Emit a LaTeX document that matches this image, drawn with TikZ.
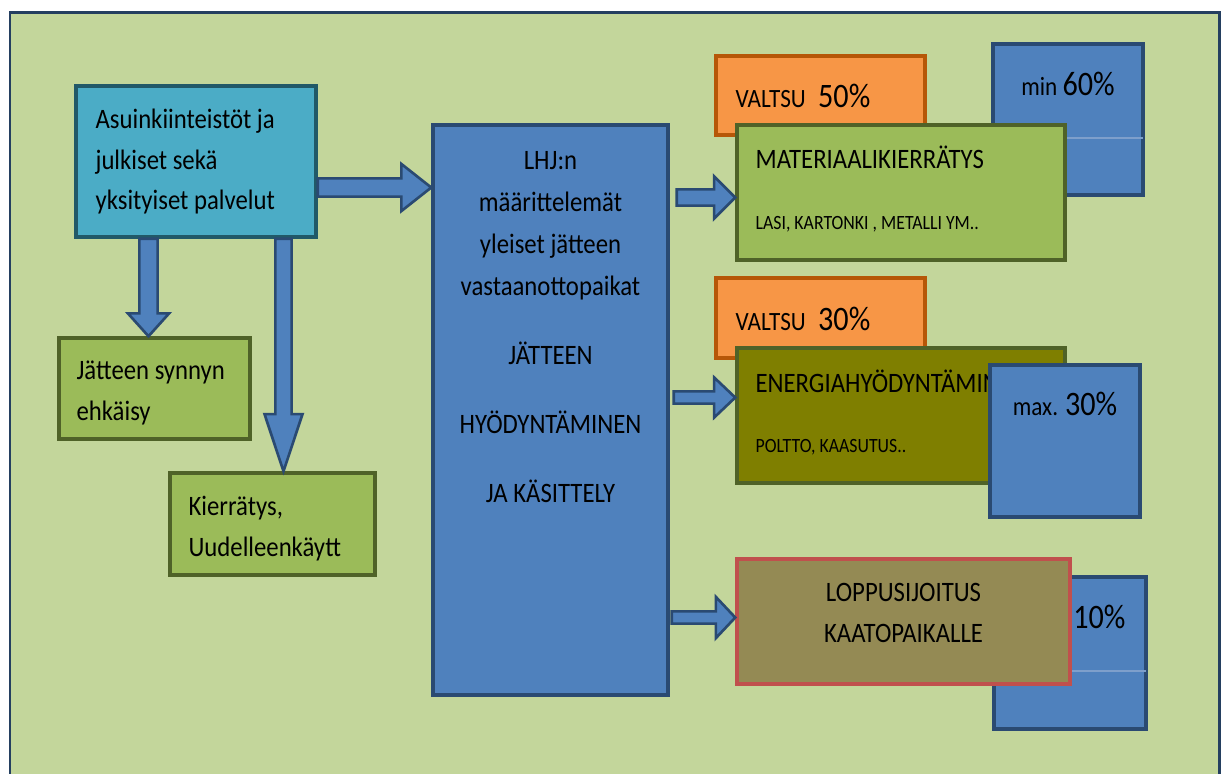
\documentclass[tikz,border=0pt]{standalone}
\usepackage{fontspec}
\setmainfont{Carlito}[FakeStretch=0.88]
\usetikzlibrary{positioning,calc}

\definecolor{bggreen}{HTML}{C3D69B}
\definecolor{frameline}{HTML}{243F60}
\definecolor{cyanfill}{HTML}{4BACC6}
\definecolor{cyanline}{HTML}{215968}
\definecolor{greenfill}{HTML}{9BBB59}
\definecolor{greenline}{HTML}{4F6228}
\definecolor{bluefill}{HTML}{4F81BD}
\definecolor{blueline}{HTML}{2A4A72}
\definecolor{orangefill}{HTML}{F79646}
\definecolor{orangeline}{HTML}{B65708}
\definecolor{olivefill}{HTML}{7F7F00}
\definecolor{brownfill}{HTML}{948A54}
\definecolor{redline}{HTML}{C0504D}
\definecolor{rowline}{HTML}{7E9FCB}

\newcommand{\boxtxt}{\fontsize{16}{23.3}\selectfont}
\newcommand{\ctrtxt}{\fontsize{16}{23.8}\selectfont}
\newcommand{\smalltxt}{\fontsize{11.5}{14}\selectfont}
\newcommand{\lbltxt}{\fontsize{15}{20}\selectfont}
\newcommand{\pcttxt}{\fontsize{19.5}{24}\selectfont}

\tikzset{font=\boxtxt}
\tikzset{
  cyanbox/.style={draw=cyanline, fill=cyanfill, line width=2pt, inner sep=0pt},
  greenbox/.style={draw=greenline, fill=greenfill, line width=2pt, inner sep=0pt},
  bluebox/.style={draw=blueline, fill=bluefill, line width=2pt, inner sep=0pt},
  orangebox/.style={draw=orangeline, fill=orangefill, line width=2pt, inner sep=0pt},
  olivebox/.style={draw=greenline, fill=olivefill, line width=2pt, inner sep=0pt},
  brownbox/.style={draw=redline, fill=brownfill, line width=2pt, inner sep=0pt},
  txt/.style={inner sep=0pt, align=left, text=black},
  rowsep/.style={draw=rowline, line width=0.6pt, shorten >=1pt, shorten <=1pt},
  blockarrow/.style n args={3}{draw=blueline, fill=bluefill, line width=1.5pt, line join=miter,
    to path={let \p1=($(\tikztotarget)-(\tikztostart)$),
      \n1={atan2(\y1,\x1)}, \n2={veclen(\x1,\y1)-#3} in
      ++(\n1+90:{#1}) -- ++(\n1:{\n2*1pt}) -- ++(\n1+90:{#2-#1}) -- (\tikztotarget)
      -- ($(\tikztostart)+(\n1:{\n2*1pt})+(\n1-90:{#2})$) -- ++(\n1+90:{#2-#1})
      -- ++(\n1+180:{\n2*1pt}) -- cycle}}
}

\begin{document}
\begin{tikzpicture}
	\useasboundingbox (0,0) rectangle (24.6,-15.46);
	\clip (0,0) rectangle (24.6,-15.46);
	\fill[white] (0,0) rectangle (24.6,-15.46);
	\draw[frameline, line width=1.7pt, fill=bggreen] (0.2,-0.24) rectangle (24.38,-15.9);

	\node[cyanbox, minimum width=4.8cm, minimum height=3.02cm] (src) at (3.92,-3.23) {};
	\node[txt, anchor=west] (srct) at ([xshift=0.42cm]src.west) {Asuinkiinteistöt ja\\julkiset sekä\\yksityiset palvelut};

	\node[greenbox, minimum width=3.82cm, minimum height=2.02cm] (jse) at (3.09,-7.77) {};
	\node[txt, anchor=west] (jset) at ([xshift=0.38cm,yshift=-0.09cm]jse.west) {Jätteen synnyn\\ehkäisy};

	\node[greenbox, minimum width=4.1cm, minimum height=2.04cm] (kie) at (5.45,-10.48) {};
	\node[txt, anchor=west] (kiet) at ([xshift=0.4cm,yshift=-0.1cm]kie.west) {Kierrätys,\\Uudelleenkäytt};

	\node[bluebox, minimum width=4.7cm, minimum height=11.4cm] (lhj) at (11.01,-8.2) {};
	\node[txt, align=center, anchor=north, font=\ctrtxt] (lhjt) at ([yshift=-0.56cm]lhj.north)
		{LHJ:n\\määrittelemät\\yleiset jätteen\\vastaanottopaikat\\[15.5pt]JÄTTEEN\\[15.5pt]HYÖDYNTÄMINEN\\[15.5pt]JA KÄSITTELY};

	\node[orangebox, minimum width=4.18cm, minimum height=1.58cm] (v50) at (16.41,-1.91) {};
	\node[txt, anchor=base west, font=\lbltxt] (v50t) at ([xshift=0.42cm,yshift=-0.23cm]v50.west) {VALTSU\hspace{7pt}{\pcttxt 50\%}};
	\node[bluebox, minimum width=3cm, minimum height=3.02cm] (m60) at (21.36,-2.39) {};
	\draw[rowsep] ([yshift=-0.37cm]m60.west) -- ([yshift=-0.37cm]m60.east);
	\node[txt, anchor=base, font=\lbltxt] (m60t) at ([yshift=0.49cm]m60.center) {min {\pcttxt 60\%}};
	\node[greenbox, minimum width=6.56cm, minimum height=2.7cm] (mat) at (18.02,-3.85) {};
	\node[txt, anchor=base west] (matt) at ([xshift=0.4cm,yshift=0.49cm]mat.west) {MATERIAALIKIERRÄTYS};
	\node[txt, anchor=base west, font=\smalltxt] (mats) at ([xshift=0.4cm,yshift=-0.73cm]mat.west) {LASI, KARTONKI , METALLI YM..};

	\node[orangebox, minimum width=4.18cm, minimum height=1.6cm] (v30) at (16.41,-6.36) {};
	\node[txt, anchor=base west, font=\lbltxt] (v30t) at ([xshift=0.42cm,yshift=-0.24cm]v30.west) {VALTSU\hspace{7pt}{\pcttxt 30\%}};
	\node[olivebox, minimum width=6.56cm, minimum height=2.7cm] (ene) at (18.02,-8.31) {};
	\node[txt, anchor=base west] (enet) at ([xshift=0.4cm,yshift=0.47cm]ene.west) {ENERGIAHYÖDYNTÄMINEN};
	\node[txt, anchor=base west, font=\smalltxt] (enes) at ([xshift=0.4cm,yshift=-0.73cm]ene.west) {POLTTO, KAASUTUS..};
	\node[bluebox, minimum width=3cm, minimum height=3.04cm] (x30) at (21.3,-8.82) {};
	\node[txt, anchor=base, font=\lbltxt] (x30t) at ([yshift=0.52cm]x30.center) {max. {\pcttxt 30\%}};

	\node[bluebox, minimum width=3.04cm, minimum height=3.04cm] (p10) at (21.4,-13.06) {};
	\draw[rowsep] ([yshift=-0.36cm]p10.west) -- ([yshift=-0.36cm]p10.east);
	\node[txt, anchor=base west, font=\pcttxt] (p10t) at ([xshift=0.06cm,yshift=0.5cm]p10.center) {10\%};
	\node[brownbox, minimum width=6.66cm, minimum height=2.5cm] (lop) at (18.07,-12.43) {};
	\node[txt, align=center, anchor=north] (lopt) at ([yshift=-0.52cm]lop.north) {LOPPUSIJOITUS\\KAATOPAIKALLE};

	\draw[blockarrow={5.2pt}{13.4pt}{17pt}] ([yshift=-0.52cm]src.east) to ([yshift=4.45cm]lhj.west);
	\draw[blockarrow={5.2pt}{11.7pt}{13pt}] ([xshift=-0.95cm]src.south) to ([xshift=-0.12cm]jse.north);
	\draw[blockarrow={4.6pt}{10.8pt}{32.5pt}] ([xshift=1.75cm]src.south) to ([xshift=0.22cm]kie.north);
	\draw[blockarrow={4.6pt}{12pt}{12pt}] ([xshift=0.14cm,yshift=4.25cm]lhj.east) to ([yshift=-0.1cm]mat.west);
	\draw[blockarrow={3.5pt}{11.4pt}{12pt}] ([xshift=0.08cm,yshift=0.25cm]lhj.east) to ([yshift=0.36cm]ene.west);
	\draw[blockarrow={3.5pt}{11.7pt}{11pt}] ([xshift=0.04cm,yshift=-4.15cm]lhj.east) to ([yshift=0.08cm]lop.west);
\end{tikzpicture}
\end{document}
